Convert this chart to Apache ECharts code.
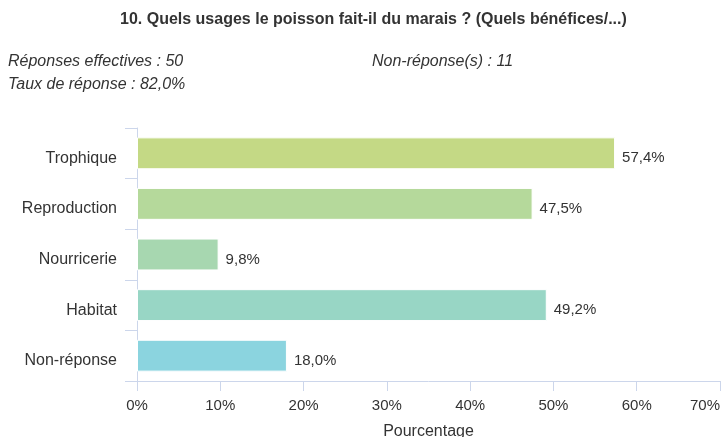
<!DOCTYPE html>
<html>
<head>
<meta charset="utf-8">
<script src="https://cdn.jsdelivr.net/npm/echarts@6/dist/echarts.min.js"></script>
<style>
  html, body { margin: 0; padding: 0; background: #fff; }
  #chart { width: 722px; height: 437px; }
</style>
</head>
<body>
<div id="chart"></div>
<script>
// données
const categories = ["Trophique", "Reproduction", "Nourricerie", "Habitat", "Non-réponse"];
const percentages = [57.4, 47.5, 9.8, 49.2, 18.0];
const barColors = ["#c4d985", "#b5d99b", "#a7d7b0", "#98d6c5", "#8bd4df"];
const xTicks = [0, 10, 20, 30, 40, 50, 60, 70];

const chart = echarts.init(document.getElementById("chart"));
const font = "Liberation Sans, Arial, sans-serif";
const subStyle = { fontSize: 16, fontStyle: "italic", fontWeight: "normal", color: "#333", fontFamily: font };

chart.setOption({
  animation: false,
  textStyle: { fontFamily: font },
  title: [
    {
      text: "10. Quels usages le poisson fait-il du marais ? (Quels bénéfices/...)",
      left: 120,
      top: 12,
      padding: 0,
      textStyle: { fontSize: 16, fontWeight: "bold", color: "#333", fontFamily: font },
    },
    { text: "Réponses effectives : 50", left: 8, top: 54, padding: 0, textStyle: subStyle },
    { text: "Non-réponse(s) : 11", left: 372, top: 54, padding: 0, textStyle: subStyle },
    { text: "Taux de réponse : 82,0%", left: 8, top: 77, padding: 0, textStyle: subStyle },
  ],
  grid: { left: 137, right: 2, top: 128, bottom: 56, containLabel: false, outerBoundsMode: "none" },
  xAxis: {
    type: "value",
    min: xTicks[0],
    max: xTicks[xTicks.length - 1],
    interval: 10,
    name: "Pourcentage",
    nameLocation: "middle",
    nameGap: 43,
    nameTextStyle: { fontSize: 16, color: "#333" },
    axisLine: { show: true, lineStyle: { color: "#ccd6eb" } },
    axisTick: { show: true, length: 10, lineStyle: { color: "#ccd6eb" } },
    splitLine: { show: false },
    axisLabel: {
      fontSize: 15,
      color: "#333",
      margin: 17,
      alignMaxLabel: "right",
      formatter: (v) => v + "%",
    },
  },
  yAxis: {
    type: "category",
    inverse: true,
    data: categories,
    axisLine: { show: true, lineStyle: { color: "#ccd6eb" } },
    axisTick: { show: true, length: 12, lineStyle: { color: "#ccd6eb" } },
    axisLabel: {
      margin: 20,
      formatter: (v) => "{c|" + v + "}",
      rich: { c: { fontSize: 16, color: "#333", padding: [10, 0, 0, 0] } },
    },
  },
  series: [
    {
      type: "bar",
      barWidth: "63%",
      data: percentages.map((v, i) => ({
        value: v,
        itemStyle: { color: barColors[i], borderColor: "#ffffff", borderWidth: 1 },
      })),
      label: {
        show: true,
        position: "right",
        distance: 7,
        offset: [0, 5],
        fontSize: 15,
        color: "#333",
        formatter: (p) => p.value.toFixed(1).replace(".", ",") + "%",
      },
    },
  ],
});
</script>
</body>
</html>
